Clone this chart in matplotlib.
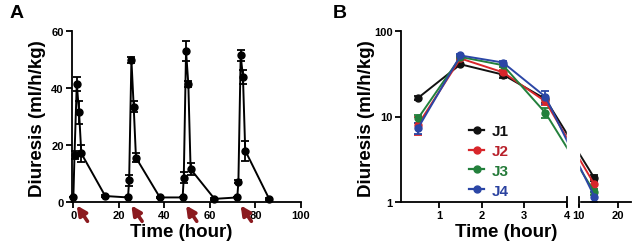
import numpy as np
import matplotlib
matplotlib.use("Agg")
import matplotlib.pyplot as plt
from matplotlib.patches import Rectangle
from matplotlib.lines import Line2D

plt.rcParams['font.family'] = ['Liberation Sans', 'DejaVu Sans']
plt.rcParams['font.weight'] = 'bold'

# ---- panel A: diuresis over 4 daily doses ----
a_time = [0, 0.5, 1.5, 2.5, 3.5, 14,
          24, 24.5, 25.5, 26.5, 27.5, 38,
          48, 48.5, 49.5, 50.5, 51.5, 62,
          72, 72.5, 73.5, 74.5, 75.5, 86]
a_mean = [1.5, 16.5, 41.5, 31.5, 17, 2,
          1.5, 7.5, 50, 33.5, 15.5, 1.5,
          1.5, 8.5, 53, 41.5, 11.5, 1,
          1.5, 7, 51.5, 44, 18, 1]
a_err = [0, 1.5, 2.5, 4, 3, 0.3,
         0, 2, 1, 2, 1.5, 0.3,
         0, 2, 3.5, 1, 2, 0.3,
         0, 0.5, 2, 2.5, 3.5, 0.3]
doses = [0, 24, 48, 72]

# ---- panel B: 4 groups, broken time axis ----
b_time = [0.5, 1.5, 2.5, 3.5, 14]
b_groups = ['J1', 'J2', 'J3', 'J4']
b_mean = {
    'J1': [16.5, 41, 31, 16, 1.9],
    'J2': [8, 48, 33, 15, 1.6],
    'J3': [9.5, 50, 40, 11, 1.3],
    'J4': [7.3, 52, 43, 17, 1.15],
}
b_err = {
    'J1': [0.8, 2, 3, 1.5, 0.15],
    'J2': [2, 2, 2, 1.5, 0.2],
    'J3': [1, 2, 2, 1.5, 0.1],
    'J4': [1, 2, 2, 3, 0.15],
}
b_colors = {'J1': '#111111', 'J2': '#d8262b', 'J3': '#23803c', 'J4': '#2b46a6'}
b_text = {'J1': '#111111', 'J2': '#b8202a', 'J3': '#237a38', 'J4': '#2b42a0'}
b_xticks = [1, 2, 3, 4, 10, 20]

W, H = 638, 253
fig = plt.figure(figsize=(W / 100, H / 100), dpi=100)


def px_axes(left, right, top, bottom):
    return fig.add_axes([left / W, 1 - bottom / H, (right - left) / W, (bottom - top) / H])


def style(ax):
    for s in ['top', 'right']:
        ax.spines[s].set_visible(False)
    for s in ['left', 'bottom']:
        ax.spines[s].set_linewidth(1.3)
    ax.tick_params(width=1.3, length=4, labelsize=8, pad=2)
    for lab in ax.get_xticklabels() + ax.get_yticklabels():
        lab.set_fontweight('bold')


# Panel A
axA = px_axes(72, 301, 32.3, 202.7)
axA.errorbar(a_time, a_mean, yerr=a_err, color='black', lw=1.4, marker='o', ms=5,
             capsize=3, capthick=1.3, elinewidth=1.3, clip_on=False, zorder=3)
axA.set_xlim(-0.6, 100)
axA.set_ylim(0, 60)
axA.set_xticks([0, 20, 40, 60, 80, 100])
axA.set_yticks([0, 20, 40, 60])
style(axA)
for d in doses:
    axA.annotate('', xy=(d + 1.5, -0.022), xytext=(d + 6.2, -0.115),
                 xycoords=axA.get_xaxis_transform(), annotation_clip=False,
                 arrowprops=dict(arrowstyle='-|>', color='#8b1a1f', lw=2.6,
                                 mutation_scale=14, shrinkA=0, shrinkB=0), zorder=5)

# Panel B: broken x axis through a piecewise-linear scale
gap = 12 / 42.5
seg2 = 3.9 / 42.5
xp = [-10, 4, 10, 110]
up = [-10, 4, 4 + gap, 4 + gap + 100 * seg2]


def fwd(x):
    return np.interp(x, xp, up)


def inv(u):
    return np.interp(u, up, xp)


axB = px_axes(401, 631, 32.3, 202.7)
axB.set_xscale('function', functions=(fwd, inv))
axB.set_yscale('log')
for g in b_groups:
    axB.errorbar(b_time, b_mean[g], yerr=b_err[g], color=b_colors[g], lw=1.4,
                 marker='o', ms=5, capsize=3, capthick=1.3, elinewidth=1.3, zorder=2)
axB.set_xlim(0.1, 23.4)
axB.set_ylim(1, 100)
axB.set_xticks(b_xticks)
axB.set_xticklabels([str(t) for t in b_xticks])
axB.set_yticks([1, 10, 100])
axB.set_yticklabels(['1', '10', '100'])
axB.minorticks_off()
style(axB)
xtr = axB.get_xaxis_transform()
axB.add_patch(Rectangle((4.05, -0.01), 5.9, 1.02, transform=xtr, color='white',
                        zorder=2.6, clip_on=False))
for bx in [4, 10]:
    axB.plot([bx, bx], [-0.027, 0.027], transform=xtr, color='black', lw=1.3,
             clip_on=False, zorder=3)

handles = [Line2D([], [], color=b_colors[g], lw=1.6, marker='o', ms=5) for g in b_groups]
leg = axB.legend(handles, b_groups, loc='upper left', bbox_to_anchor=(0.296, 0.455),
                 frameon=False, fontsize=11, handlelength=1.0, handletextpad=0.5,
                 labelspacing=0.38, borderaxespad=0, borderpad=0)
for t, g in zip(leg.get_texts(), b_groups):
    t.set_color(b_text[g])
    t.set_fontweight('bold')

# labels
ylab = 'Diuresis (ml/h/kg)'
fig.text(38 / W, 1 - 119 / H, ylab, rotation=90, ha='center', va='center',
         fontsize=13.5, fontweight='bold')
fig.text(367 / W, 1 - 119 / H, ylab, rotation=90, ha='center', va='center',
         fontsize=13.5, fontweight='bold')
fig.text(181 / W, 1 - 233 / H, 'Time (hour)', ha='center', va='center',
         fontsize=13.5, fontweight='bold')
fig.text(506 / W, 1 - 233 / H, 'Time (hour)', ha='center', va='center',
         fontsize=13.5, fontweight='bold')
fig.text(17 / W, 1 - 13 / H, 'A', ha='center', va='center', fontsize=14, fontweight='bold')
fig.text(340 / W, 1 - 13 / H, 'B', ha='center', va='center', fontsize=14, fontweight='bold')

fig.savefig('out.png', dpi=100)
